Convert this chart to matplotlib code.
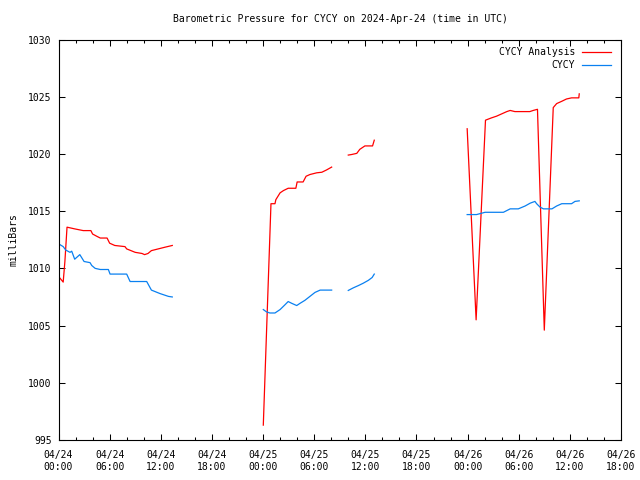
import numpy as np
import matplotlib
matplotlib.use('Agg')
import matplotlib.pyplot as plt

# hours since 2024-04-24 00:00 UTC, nan = no data
nan = np.nan
hrs_an = [0.0, 0.55, 0.75, 1.0, 1.9, 2.9, 3.8, 4.0, 4.5, 4.9, 5.7, 6.0, 6.6, 7.8, 8.0,
          9.0, 9.8, 10.1, 10.5, 10.9, 11.7, 12.5, 13.35, nan,
          24.03, 24.93, 25.4, 25.5, 26.0, 26.4, 26.95, 27.85, 28.0, 28.7, 29.05, 29.5,
          30.3, 30.9, 31.45, 32.05, nan,
          34.0, 34.4, 35.0, 35.35, 35.95, 36.85, 37.05, nan,
          47.95, 49.0, 50.1, 50.8, 51.4, 52.0, 52.6, 53.0, 53.55, 55.3, 55.7, 56.2,
          57.0, 58.05, 58.45, 59.05, 59.6, 60.2, 61.05, 61.1]
p_an = [1009.3, 1008.8, 1010.6, 1013.6, 1013.45, 1013.3, 1013.3, 1013.0, 1012.8, 1012.65,
        1012.65, 1012.2, 1012.0, 1011.9, 1011.7, 1011.4, 1011.3, 1011.2, 1011.3, 1011.55,
        1011.7, 1011.85, 1012.0, nan,
        996.3, 1015.65, 1015.65, 1016.0, 1016.6, 1016.8, 1017.0, 1017.0, 1017.55, 1017.55,
        1018.05, 1018.2, 1018.35, 1018.4, 1018.6, 1018.85, nan,
        1019.9, 1019.95, 1020.05, 1020.4, 1020.7, 1020.7, 1021.2, nan,
        1022.2, 1005.5, 1022.95, 1023.15, 1023.3, 1023.5, 1023.7, 1023.8, 1023.7, 1023.7,
        1023.8, 1023.9, 1004.6, 1024.05, 1024.4, 1024.6, 1024.8, 1024.9, 1024.9, 1025.25]

hrs_ob = [0.0, 0.55, 0.85, 1.35, 1.55, 1.9, 2.5, 3.0, 3.7, 3.9, 4.3, 4.9, 5.85, 6.05, 8.0,
          8.4, 10.35, 10.9, 11.9, 12.9, 13.35, nan,
          24.03, 24.4, 24.8, 25.4, 26.0, 26.55, 26.95, 27.35, 27.95, 28.35, 28.9, 29.5,
          30.1, 30.7, 32.05, nan,
          34.0, 34.6, 35.2, 35.75, 36.35, 36.8, 37.05, nan,
          47.95, 49.05, 50.05, 52.2, 53.0, 53.95, 54.75, 55.35, 55.9, 56.1, 56.5, 56.9,
          57.9, 58.45, 59.05, 60.2, 60.6, 61.1]
p_ob = [1012.15, 1011.9, 1011.6, 1011.4, 1011.5, 1010.8, 1011.2, 1010.6, 1010.5, 1010.25,
        1010.0, 1009.9, 1009.9, 1009.5, 1009.5, 1008.85, 1008.85, 1008.1, 1007.8, 1007.55,
        1007.5, nan,
        1006.4, 1006.2, 1006.1, 1006.1, 1006.4, 1006.8, 1007.1, 1006.95, 1006.75, 1006.95,
        1007.2, 1007.55, 1007.9, 1008.1, 1008.1, nan,
        1008.07, 1008.3, 1008.5, 1008.7, 1008.95, 1009.2, 1009.5, nan,
        1014.7, 1014.7, 1014.9, 1014.9, 1015.2, 1015.2, 1015.45, 1015.7, 1015.85, 1015.65,
        1015.35, 1015.2, 1015.2, 1015.45, 1015.65, 1015.65, 1015.85, 1015.9]

tick_hrs = list(range(0, 67, 6))
tick_lbl = ['04/24\n00:00', '04/24\n06:00', '04/24\n12:00', '04/24\n18:00',
            '04/25\n00:00', '04/25\n06:00', '04/25\n12:00', '04/25\n18:00',
            '04/26\n00:00', '04/26\n06:00', '04/26\n12:00', '04/26\n18:00']

plt.rcParams['font.family'] = 'DejaVu Sans Mono'
plt.rcParams['font.size'] = 7

fig = plt.figure(figsize=(6.4, 4.8), dpi=100)
ax = fig.add_axes([58.5 / 640, 40 / 480, 562.5 / 640, 400.5 / 480])

ax.plot(hrs_an, p_an, color='#ff0000', lw=0.9, label='CYCY Analysis')
ax.plot(hrs_ob, p_ob, color='#0a80f0', lw=0.9, label='CYCY')

ax.set_xlim(0, 66)
ax.set_ylim(995, 1030)
ax.set_xticks(tick_hrs)
ax.set_xticklabels(tick_lbl, linespacing=1.3)
ax.set_xticks(np.arange(0, 67, 2), minor=True)
ax.set_yticks(np.arange(995, 1031, 5))
ax.tick_params(which='both', direction='in', top=True, right=True, width=0.75)
ax.tick_params(which='major', length=4)
ax.tick_params(which='minor', length=2.5)
ax.tick_params(axis='x', pad=7)
ax.tick_params(axis='y', pad=5)
for s in ax.spines.values():
    s.set_linewidth(0.8)

ax.set_ylabel('milliBars', labelpad=7)
fig.text(340 / 640, 1 - 19 / 480, 'Barometric Pressure for CYCY on 2024-Apr-24 (time in UTC)',
         ha='center', va='center')

ax.legend(loc='upper right', frameon=False, markerfirst=False, handlelength=3.0,
          borderaxespad=0.6, labelspacing=0.3, handletextpad=0.7,
          bbox_to_anchor=(1.0, 1.005))

fig.savefig('out.png', dpi=100)
